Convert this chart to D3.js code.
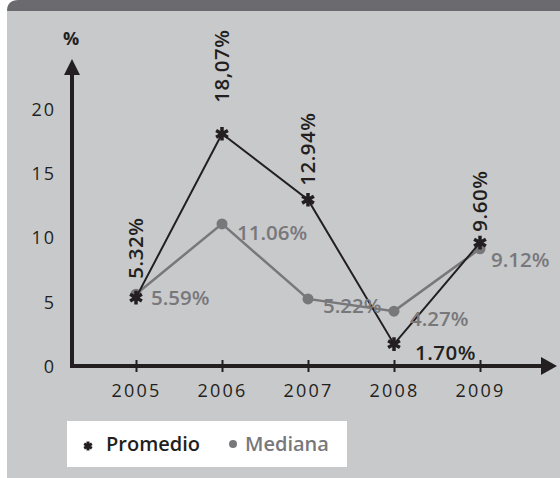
<!DOCTYPE html>
<html>
<head>
<meta charset="utf-8">
<script src="https://cdn.jsdelivr.net/npm/d3@7/dist/d3.min.js"></script>
<style>
  html, body { margin: 0; padding: 0; background: #ffffff; }
  svg { display: block; }
</style>
</head>
<body>
<svg id="chart" width="560" height="478" font-family="'Open Sans', 'DejaVu Sans', sans-serif"></svg>
<script>
// Years on the x axis
const years = ["2005", "2006", "2007", "2008", "2009"];
// Average and median values (%)
const promedio = [5.32, 18.07, 12.94, 1.70, 9.60];
const mediana = [5.59, 11.06, 5.22, 4.27, 9.12];
// Printed value labels
const promedioLabels = ["5.32%", "18,07%", "12.94%", "1.70%", "9.60%"];
const medianaLabels = ["5.59%", "11.06%", "5.22%", "4.27%", "9.12%"];
// Y axis tick values
const yTicks = [0, 5, 10, 15, 20];
// Legend entries
const seriesNames = ["Promedio", "Mediana"];

const svg = d3.select("#chart");
const W = 560, H = 478;

const dark = "#231f20";
const grey = "#78787b";
const font = "'Open Sans', 'DejaVu Sans', sans-serif";

// Panel: dark header strip and grey body with a rounded top-left corner
svg.append("path")
  .attr("d", `M7,12 Q7,0 19,0 L${W},0 L${W},${H} L7,${H} Z`)
  .attr("fill", "#c8c9cb");
svg.append("path")
  .attr("d", `M7,11 Q7,0 19,0 L${W},0 L${W},11 Z`)
  .attr("fill", "#6b6b6f");

const x = d3.scalePoint().domain(years).range([136, 480]);
const y = d3.scaleLinear().domain([0, 20]).range([366, 109]);

const axisX0 = 72;
const g = svg.append("g");

// Y axis with arrow
g.append("line")
  .attr("x1", axisX0).attr("x2", axisX0)
  .attr("y1", y(0) + 2).attr("y2", 70)
  .attr("stroke", dark).attr("stroke-width", 4);
g.append("path")
  .attr("d", `M${axisX0},59 L${axisX0 + 8},75 L${axisX0 - 8},75 Z`)
  .attr("fill", dark);

// X axis with arrow
g.append("line")
  .attr("x1", axisX0 - 2).attr("x2", 545)
  .attr("y1", y(0)).attr("y2", y(0))
  .attr("stroke", dark).attr("stroke-width", 4);
g.append("path")
  .attr("d", `M557,${y(0)} L541,${y(0) - 9} L541,${y(0) + 9} Z`)
  .attr("fill", dark);

// Y tick labels
const yAxis = d3.axisLeft(y).tickValues(yTicks).tickSize(0).tickPadding(0);
const gy = svg.append("g").attr("transform", "translate(56,0)").call(yAxis);
gy.select(".domain").remove();
gy.selectAll("text")
  .attr("font-size", 18).attr("fill", dark)
  .attr("font-family", font)
  .attr("letter-spacing", "2px")
  .attr("dy", "0.35em");

// X ticks crossing the axis and labels
const xAxis = d3.axisBottom(x).tickSize(12).tickPadding(12);
const gx = svg.append("g").attr("transform", `translate(0,${y(0) - 6})`).call(xAxis);
gx.select(".domain").remove();
gx.selectAll(".tick line").attr("stroke", dark).attr("stroke-width", 2);
gx.selectAll("text")
  .attr("font-size", 18).attr("fill", dark)
  .attr("font-family", font)
  .attr("letter-spacing", "2.2px");

// Axis unit
svg.append("text")
  .attr("x", 71).attr("y", 45)
  .attr("text-anchor", "middle")
  .attr("font-family", font)
  .attr("font-size", 18).attr("font-weight", 700).attr("fill", dark)
  .text("%");

// Median series
const line = d3.line().x((d, i) => x(years[i])).y(d => y(d));
svg.append("path")
  .datum(mediana)
  .attr("d", line)
  .attr("fill", "none").attr("stroke", grey).attr("stroke-width", 2.5);
svg.selectAll(".dot").data(mediana).join("circle")
  .attr("class", "dot")
  .attr("cx", (d, i) => x(years[i])).attr("cy", d => y(d))
  .attr("r", 5.5).attr("fill", grey);

// Average series
svg.append("path")
  .datum(promedio)
  .attr("d", line)
  .attr("fill", "none").attr("stroke", dark).attr("stroke-width", 2);
const star = d3.symbol().type(d3.symbolAsterisk).size(130);
svg.selectAll(".star").data(promedio).join("path")
  .attr("class", "star")
  .attr("d", star)
  .attr("transform", (d, i) => `translate(${x(years[i])},${y(d)})`)
  .attr("fill", "none").attr("stroke", dark).attr("stroke-width", 3.5);

// Median value labels
const medOffsets = [[15, 4], [15, 9], [15, 7], [16, 8], [11, 11]];
svg.selectAll(".mlab").data(mediana).join("text")
  .attr("class", "mlab")
  .attr("x", (d, i) => x(years[i]) + medOffsets[i][0])
  .attr("y", (d, i) => y(d) + medOffsets[i][1])
  .attr("dy", "0.35em")
  .attr("font-family", font)
  .attr("font-size", 20.5).attr("font-weight", 600).attr("fill", grey)
  .text((d, i) => medianaLabels[i]);

// Average value labels (rotated, except 2008)
const avgGap = [19, 31, 14, null, 11];
svg.selectAll(".plab").data(promedio).join("text")
  .attr("class", "plab")
  .attr("transform", (d, i) => {
    if (i === 3) return `translate(${x(years[i]) + 21},${y(d) + 9})`;
    return `translate(${x(years[i])},${y(d) - avgGap[i]}) rotate(-90)`;
  })
  .attr("dy", "0.35em")
  .attr("text-anchor", "start")
  .attr("font-family", font)
  .attr("font-size", 20.5).attr("font-weight", 600).attr("fill", dark)
  .attr("letter-spacing", "0.5px")
  .text((d, i) => promedioLabels[i]);

// Legend
const lg = svg.append("g");
lg.append("rect")
  .attr("x", 67).attr("y", 421).attr("width", 280).attr("height", 46)
  .attr("fill", "#ffffff");
lg.append("path")
  .attr("d", d3.symbol().type(d3.symbolAsterisk).size(55))
  .attr("transform", "translate(88,446)")
  .attr("fill", "none").attr("stroke", dark).attr("stroke-width", 3);
lg.append("text")
  .attr("x", 106).attr("y", 444).attr("dy", "0.35em")
  .attr("font-family", font)
  .attr("font-size", 20).attr("font-weight", 600).attr("fill", dark)
  .text(seriesNames[0]);
lg.append("circle")
  .attr("cx", 233).attr("cy", 444).attr("r", 4).attr("fill", grey);
lg.append("text")
  .attr("x", 245).attr("y", 444).attr("dy", "0.35em")
  .attr("font-family", font)
  .attr("font-size", 20).attr("font-weight", 600).attr("fill", grey)
  .text(seriesNames[1]);
</script>
</body>
</html>
